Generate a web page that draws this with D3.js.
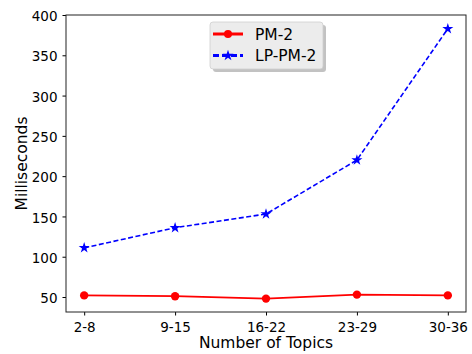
<!DOCTYPE html>
<html>
<head>
<meta charset="utf-8">
<script src="https://cdn.jsdelivr.net/npm/d3@7"></script>
<style>
  body { margin: 0; background: #fff; }
  svg { font-family: "DejaVu Sans", sans-serif; }
</style>
</head>
<body>
<svg id="chart" width="472" height="354"></svg>
<script>
// data
const categories = ['2-8', '9-15', '16-22', '23-29', '30-36'];
const pm2 = [52, 51, 48, 53, 52];
const lppm2 = [111, 136, 153, 220, 383];
const yTicks = [50, 100, 150, 200, 250, 300, 350, 400];

const margin = {top: 15, right: 6, bottom: 42, left: 66};
const width = 472 - margin.left - margin.right;
const height = 354 - margin.top - margin.bottom;

const svg = d3.select('#chart')
  .append('g')
  .attr('transform', 'translate(' + margin.left + ',' + margin.top + ')');

// categorical x axis with matplotlib-like padding
const x = d3.scaleLinear()
  .domain([-0.2, categories.length - 1 + 0.2])
  .range([0, width]);

const y = d3.scaleLinear()
  .domain([31.4, 400])
  .range([height, 0]);

const xAxis = svg.append('g')
  .attr('transform', 'translate(0,' + height + ')')
  .call(d3.axisBottom(x)
    .tickValues(d3.range(categories.length))
    .tickFormat(i => categories[i])
    .tickSize(3.5)
    .tickPadding(6.5));

const yAxis = svg.append('g')
  .call(d3.axisLeft(y)
    .tickValues(yTicks)
    .tickSize(3.5)
    .tickPadding(5));

[xAxis, yAxis].forEach(a => {
  a.select('.domain').remove();
  a.selectAll('text')
    .style('font-size', '13.5px')
    .style('fill', '#000')
    .style('font-family', '"DejaVu Sans", sans-serif');
  a.selectAll('line').style('stroke', '#000');
});
yAxis.selectAll('text').attr('dy', '0.42em');

// frame
svg.append('rect')
  .attr('x', 0)
  .attr('y', 0)
  .attr('width', width)
  .attr('height', height)
  .style('fill', 'none')
  .style('stroke', '#222')
  .style('stroke-width', 1);

const line = d3.line()
  .x((d, i) => x(i))
  .y(d => y(d));

// LP-PM-2 dashed blue
svg.append('path')
  .datum(lppm2)
  .attr('d', line)
  .style('fill', 'none')
  .style('stroke', '#0000ff')
  .style('stroke-width', 1.6)
  .style('stroke-dasharray', '5,2.5');

const star = d3.symbol().type(d3.symbolStar).size(38);
svg.selectAll('.star')
  .data(lppm2)
  .enter()
  .append('path')
  .attr('class', 'star')
  .attr('d', star)
  .attr('transform', (d, i) => 'translate(' + x(i) + ',' + y(d) + ')')
  .style('fill', '#0000ff');

// PM-2 solid red
svg.append('path')
  .datum(pm2)
  .attr('d', line)
  .style('fill', 'none')
  .style('stroke', '#ff0000')
  .style('stroke-width', 1.8);

svg.selectAll('.dot')
  .data(pm2)
  .enter()
  .append('circle')
  .attr('class', 'dot')
  .attr('cx', (d, i) => x(i))
  .attr('cy', d => y(d))
  .attr('r', 4.2)
  .style('fill', '#ff0000');

// axis labels
svg.append('text')
  .attr('x', width / 2)
  .attr('y', height + 36)
  .attr('text-anchor', 'middle')
  .style('font-size', '15.5px')
  .text('Number of Topics');

svg.append('text')
  .attr('transform', 'rotate(-90)')
  .attr('x', -height / 2)
  .attr('y', -39)
  .attr('text-anchor', 'middle')
  .style('font-size', '15.5px')
  .text('Milliseconds');

// legend with shadow
const legend = svg.append('g')
  .attr('transform', 'translate(' + (210 - margin.left) + ',' + (22 - margin.top) + ')');

legend.append('rect')
  .attr('x', 3)
  .attr('y', 3)
  .attr('width', 113)
  .attr('height', 47)
  .attr('rx', 3)
  .style('fill', '#9a9a9a')
  .style('opacity', 0.6);

legend.append('rect')
  .attr('width', 113)
  .attr('height', 47)
  .attr('rx', 3)
  .style('fill', '#ececec')
  .style('stroke', '#cfcfcf')
  .style('stroke-width', 0.8);

const items = [
  {name: 'PM-2', color: '#ff0000', dash: null, marker: 'circle'},
  {name: 'LP-PM-2', color: '#0000ff', dash: '6,3', marker: 'star'}
];

items.forEach((it, i) => {
  const yy = 12 + i * 21.5;
  legend.append('line')
    .attr('x1', 3)
    .attr('x2', 33)
    .attr('y1', yy)
    .attr('y2', yy)
    .style('stroke', it.color)
    .style('stroke-width', 3)
    .style('stroke-dasharray', it.dash);
  if (it.marker === 'circle') {
    legend.append('circle')
      .attr('cx', 18)
      .attr('cy', yy)
      .attr('r', 4)
      .style('fill', it.color);
  } else {
    legend.append('path')
      .attr('d', star)
      .attr('transform', 'translate(18,' + yy + ')')
      .style('fill', it.color);
  }
  legend.append('text')
    .attr('x', 45)
    .attr('y', yy + 5.5)
    .style('font-size', '15.5px')
    .text(it.name);
});
</script>
</body>
</html>
